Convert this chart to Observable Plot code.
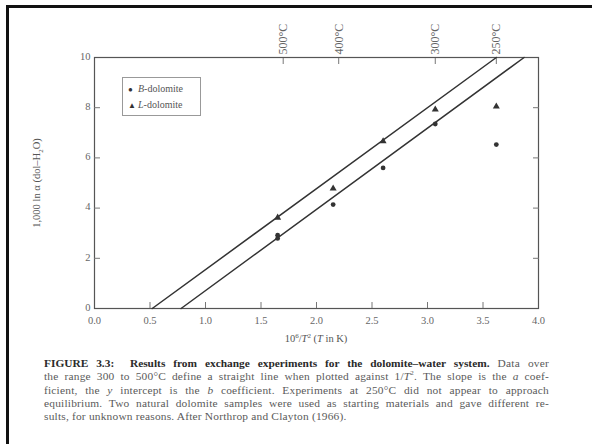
<!DOCTYPE html>
<html>
<head>
<meta charset="utf-8">
<script src="https://cdn.jsdelivr.net/npm/d3@7"></script>
<script src="https://cdn.jsdelivr.net/npm/@observablehq/plot@0.6"></script>
<style>
  html, body { margin: 0; padding: 0; background: #fff; }
  #page { position: relative; width: 592px; height: 444px; overflow: hidden; font-family: "Liberation Serif", serif; }
  #border { position: absolute; left: 6px; top: 5px; width: 700px; height: 600px; border-top: 3px solid #111; border-left: 3px solid #111; }
  #chart { position: absolute; left: 0; top: 0; }
  #legend { position: absolute; left: 122px; top: 77px; width: 72px; border: 1px solid #999; font-size: 10px; color: #555; padding: 3px 0 2px 5px; line-height: 15px; background: #fff; }
  #legend .sym { display: inline-block; width: 10px; color: #333; font-size: 8px; }
  #caption { position: absolute; left: 44px; top: 357px; width: 505px; font-size: 11.4px; line-height: 13.3px; color: #5a5a5a; letter-spacing: 0.2px; }
  #caption div { text-align: justify; text-align-last: justify; white-space: nowrap; }
  #caption div.last { text-align-last: left; }
  #caption b { color: #2a2a2a; letter-spacing: 0; }
</style>
</head>
<body>
<div id="page">
  <div id="border"></div>
  <div id="chart"></div>
  <div id="legend">
    <div><span class="sym">●</span><i>B</i>-dolomite</div>
    <div><span class="sym">▲</span><i>L</i>-dolomite</div>
  </div>
  <div id="caption">
    <div><b>FIGURE 3.3:&nbsp; Results from exchange experiments for the dolomite–water system.</b> Data over</div>
    <div>the range 300 to 500°C define a straight line when plotted against 1/<i>T</i><sup style="font-size:7px;line-height:0">2</sup>. The slope is the <i>a</i> coef-</div>
    <div>ficient, the <i>y</i> intercept is the <i>b</i> coefficient. Experiments at 250°C did not appear to approach</div>
    <div>equilibrium. Two natural dolomite samples were used as starting materials and gave different re-</div>
    <div class="last">sults, for unknown reasons. After Northrop and Clayton (1966).</div>
  </div>
</div>
<script>
// Data
const bX = [1.65, 1.65, 2.15, 2.60, 3.07, 3.62];
const bY = [2.79, 2.92, 4.14, 5.60, 7.35, 6.53];
const lX = [1.65, 2.15, 2.60, 3.07, 3.62];
const lY = [3.62, 4.78, 6.66, 7.93, 8.05];
// fitted lines: endpoints (x at y=0 and x at y=10)
const lineLX = [0.52, 3.62];
const lineBX = [0.78, 3.87];
const lineYEnds = [0, 10];
const xTicks = [0, 0.5, 1, 1.5, 2, 2.5, 3, 3.5, 4];
const yTicks = [0, 2, 4, 6, 8, 10];
const tempPos = [1.70, 2.20, 3.07, 3.62];
const tempLabels = ["500°C", "400°C", "300°C", "250°C"];

const bPts = bX.map((x, i) => ({x, y: bY[i]}));
const lPts = lX.map((x, i) => ({x, y: lY[i]}));
const lineL = lineLX.map((x, i) => ({x, y: lineYEnds[i]}));
const lineB = lineBX.map((x, i) => ({x, y: lineYEnds[i]}));
const inner = [2, 4, 6, 8];

const chart = Plot.plot({
  width: 592,
  height: 350,
  marginLeft: 94,
  marginRight: 54,
  marginTop: 57,
  marginBottom: 42,
  style: {fontFamily: "Liberation Serif, serif", fontSize: "10.5px", color: "#555", background: "transparent", overflow: "visible"},
  x: {domain: [0, 4]},
  y: {domain: [0, 10]},
  marks: [
    Plot.frame({stroke: "#555", strokeWidth: 1.2}),
    Plot.axisX(xTicks.slice(1, -1), {anchor: "bottom", tickSize: -6, text: null, label: null, stroke: "#777"}),
    Plot.axisX(xTicks, {anchor: "bottom", tickSize: 0, tickPadding: 8, tickFormat: d3.format(".1f"), label: null, fill: "#666"}),
    Plot.axisY(inner, {anchor: "left", tickSize: -6, text: null, label: null, stroke: "#777"}),
    Plot.axisY(yTicks, {anchor: "left", tickSize: 0, tickPadding: 4, label: null, fill: "#666", dy: -1}),
    Plot.axisY(inner, {anchor: "right", tickSize: -6, text: null, label: null, stroke: "#777"}),
    Plot.axisX(tempPos, {anchor: "top", tickSize: -6, text: null, label: null, stroke: "#777"}),
    Plot.axisX(tempPos, {anchor: "top", tickSize: 0, tickPadding: 3, tickRotate: -90, tickFormat: (d, i) => tempLabels[i], label: null, fill: "#666", fontSize: 12}),
    Plot.line(lineL, {x: "x", y: "y", stroke: "#333", strokeWidth: 1.5}),
    Plot.line(lineB, {x: "x", y: "y", stroke: "#333", strokeWidth: 1.5}),
    Plot.dot(bPts, {x: "x", y: "y", r: 2.4, fill: "#333", stroke: "none"}),
    Plot.dot(lPts, {x: "x", y: "y", symbol: "triangle", r: 2.6, fill: "#333", stroke: "none"})
  ]
});

const svg = d3.select(chart);
svg.append("text")
  .attr("x", 316).attr("y", 342)
  .attr("text-anchor", "middle")
  .attr("fill", "#555")
  .attr("font-size", 10.5)
  .html('10<tspan dy="-4" font-size="7">6</tspan><tspan dy="4">/</tspan><tspan font-style="italic">T</tspan><tspan dy="-4" font-size="7">2</tspan><tspan dy="4"> (</tspan><tspan font-style="italic">T</tspan> in K)');
svg.append("text")
  .attr("transform", "translate(40,183) rotate(-90)")
  .attr("text-anchor", "middle")
  .attr("fill", "#555")
  .attr("font-size", 10.5)
  .html('1,000 ln α (dol–H<tspan dy="3" font-size="7">2</tspan><tspan dy="-3">O)</tspan>');

document.getElementById("chart").appendChild(chart);
</script>
</body>
</html>
